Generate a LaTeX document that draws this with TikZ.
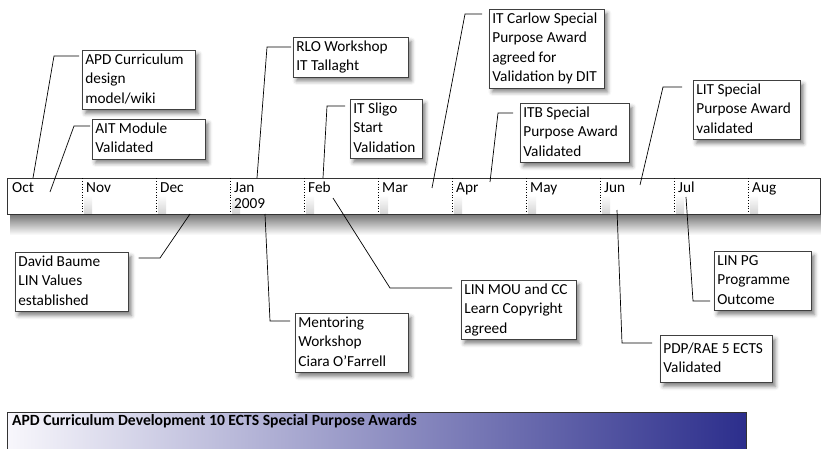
\documentclass[tikz,border=0pt]{standalone}
\usepackage{fontspec}
\setmainfont{Carlito}
\usepackage{tikz}
\usetikzlibrary{shadows.blur}

\definecolor{bandleft}{RGB}{248,247,252}
\definecolor{bandmid}{RGB}{146,136,198}
\definecolor{bandright}{RGB}{44,46,140}

\begin{document}
\begin{tikzpicture}[x=1pt,y=-1pt,font=\fontsize{15.3}{19.5}\selectfont]
	\tikzstyle{event}=[draw=black!75,fill=white,line width=0.7pt,align=flush left,anchor=north west,
		inner xsep=3pt,inner ysep=0.3pt,execute at begin node=\strut,execute at end node=\strut,
		blur shadow={shadow xshift=3pt,shadow yshift=-4pt,shadow blur radius=4pt,shadow opacity=50}]
	\tikzstyle{leader}=[black,line width=0.7pt]
	\tikzstyle{month}=[anchor=base west,inner sep=0pt]

	\useasboundingbox (0,0) rectangle (821,449);

	\shade[top color=black!60,bottom color=white] (10,212) rectangle (821,235);
	\node[draw=black!80,fill=white,line width=0.8pt,anchor=north west,inner sep=0pt,
		minimum width=813pt,minimum height=36pt] (bar) at (7,178) {};

	\foreach \i in {1,...,10}{
		\shade[top color=white,bottom color=black!16] (10+74*\i,195) rectangle (18+74*\i,213);
		\draw[dotted,line width=0.7pt] (8+74*\i,178.5) -- (8+74*\i,213.5);
	}
	\foreach \m [count=\i from 0] in {Oct,Nov,Dec,Jan,Feb,Mar,Apr,May,Jun,Jul,Aug}
		\node[month] (m\m) at (12+74*\i,193) {\m};
	\node[month] (year) at (234,208) {2009};

	\node[event,text width=107pt] (apd)    at (82,50)   {APD~Curriculum\\design\\model/wiki};
	\node[event,text width=107pt] (ait)    at (92,119)  {AIT~Module\\Validated};
	\node[event,text width=109pt] (rlo)    at (293,37)  {RLO~Workshop\\IT~Tallaght};
	\node[event,text width=66pt]  (sligo)  at (350,99)  {IT~Sligo\\Start\\Validation};
	\node[event,text width=109pt] (carlow) at (489,9)   {IT~Carlow~Special\\Purpose~Award\\agreed~for\\Validation~by~DIT};
	\node[event,text width=103pt] (itb)    at (520,103) {ITB~Special\\Purpose~Award\\Validated};
	\node[event,text width=101pt] (lit)    at (693,80)  {LIT~Special\\Purpose~Award\\validated};
	\node[event,text width=107pt] (baume)  at (15,252)  {David~Baume\\LIN~Values\\established};
	\node[event,text width=107pt] (mentor) at (295,313) {Mentoring\\Workshop\\Ciara~O’Farrell};
	\node[event,text width=109pt] (mou)    at (461,280) {LIN~MOU~and~CC\\Learn~Copyright\\agreed};
	\node[event,text width=91pt]  (linpg)  at (714,251) {LIN~PG\\Programme\\Outcome};
	\node[event,text width=106pt,inner ysep=4pt] (pdp) at (660,335) {PDP/RAE~5~ECTS\\Validated};

	\foreach \n/\sx/\sy/\kx/\ky/\side/\gap in {
			apd/33/178/54/56/west/3, ait/50/192/74/126/west/2,
			rlo/257/178/267/47/west/2, sligo/323/178/327/106/west/5,
			carlow/432/188/465/14/west/7, itb/490/182/498/113/west/7,
			lit/640/185/663/87/west/11, baume/190/214/160/258/east/10,
			mentor/265/214/270/321/west/5, mou/333/198/390/288/west/9,
			linpg/686/197/693/301/west/4, pdp/617/210/622/343/west/8}{
		\coordinate (s\n) at (\sx,\sy);
		\coordinate (k\n) at (\kx,\ky);
		\draw[leader,shorten >=\gap pt] (s\n) -- (k\n) -- (k\n -| \n.\side);
	}

	\shade[left color=bandleft,middle color=bandmid,right color=bandright] (7,412) rectangle (746,460);
	\draw[black!80,line width=0.8pt] (7,460) -- (7,412) -- (746,412) -- (746,460);
	\node[anchor=base west,inner sep=0pt,font=\fontsize{15.6}{19}\selectfont\bfseries] (band) at (12,425)
		{APD Curriculum Development 10 ECTS Special Purpose Awards};
\end{tikzpicture}
\end{document}
